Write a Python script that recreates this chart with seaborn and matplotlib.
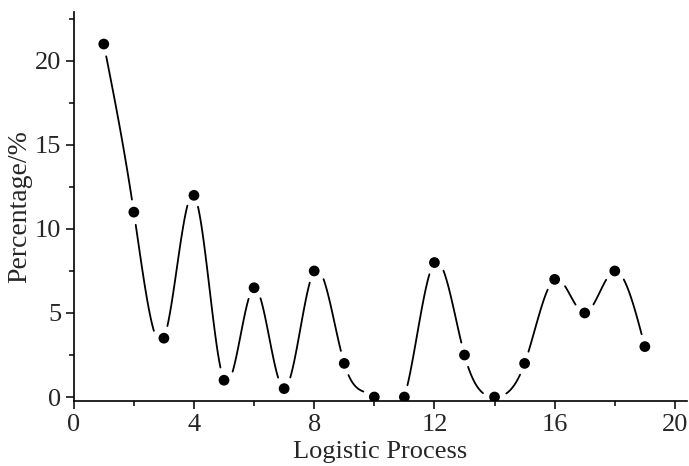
import numpy as np
import pandas as pd
import seaborn as sns
import matplotlib.pyplot as plt
from matplotlib.ticker import MultipleLocator

# Data
process = [1, 2, 3, 4, 5, 6, 7, 8, 9, 10, 11, 12, 13, 14, 15, 16, 17, 18, 19]
percentage = [21, 11, 3.5, 12, 1, 6.5, 0.5, 7.5, 2, 0, 0, 8, 2.5, 0, 2, 7, 5, 7.5, 3]


def natural_spline(x, y, n=2000):
    """Natural cubic spline through the points."""
    x = np.asarray(x, float)
    y = np.asarray(y, float)
    k = len(x)
    h = np.diff(x)
    A = np.zeros((k, k))
    b = np.zeros(k)
    A[0, 0] = A[-1, -1] = 1
    for i in range(1, k - 1):
        A[i, i - 1] = h[i - 1]
        A[i, i] = 2 * (h[i - 1] + h[i])
        A[i, i + 1] = h[i]
        b[i] = 6 * ((y[i + 1] - y[i]) / h[i] - (y[i] - y[i - 1]) / h[i - 1])
    m = np.linalg.solve(A, b)
    xs = np.linspace(x[0], x[-1], n)
    idx = np.clip(np.searchsorted(x, xs) - 1, 0, k - 2)
    t = xs - x[idx]
    hi = h[idx]
    a = y[idx]
    bb = (y[idx + 1] - y[idx]) / hi - hi * (2 * m[idx] + m[idx + 1]) / 6
    c = m[idx] / 2
    d = (m[idx + 1] - m[idx]) / (6 * hi)
    ys = a + bb * t + c * t ** 2 + d * t ** 3
    return xs, ys


sns.set_theme(style="ticks")
plt.rcParams['font.family'] = ['Liberation Serif', 'DejaVu Serif']

fig = plt.figure(figsize=(6.89, 4.66), dpi=100)
ax = fig.add_axes([0.107, 0.139, 0.89, 0.835])
ax.set_xlim(0, 20.4)
ax.set_ylim(-0.25, 22.9)

# spline curve, cut near each marker
xs, ys = natural_spline(process, percentage)
fig.canvas.draw()
curve_px = ax.transData.transform(np.column_stack([xs, ys]))
pts_px = ax.transData.transform(np.column_stack([process, percentage]))
dist = np.min(np.linalg.norm(curve_px[:, None, :] - pts_px[None, :, :], axis=2), axis=1)
keep = dist > 12
seg = np.cumsum(np.r_[True, keep[1:] != keep[:-1]])
curve = pd.DataFrame({"x": xs, "y": ys, "seg": seg})[keep]

sns.lineplot(data=curve, x="x", y="y", units="seg", estimator=None, sort=False,
             color="black", linewidth=1.3, ax=ax)
sns.scatterplot(x=process, y=percentage, color="black", s=60, edgecolor="none",
                zorder=3, ax=ax)

ax.set_xticks([0, 4, 8, 12, 16, 20])
ax.xaxis.set_minor_locator(MultipleLocator(2))
ax.set_yticks([0, 5, 10, 15, 20])
ax.yaxis.set_minor_locator(MultipleLocator(2.5))
ax.tick_params(which="major", direction="out", length=6, width=1.1, labelsize=19,
               color="black", pad=3)
ax.tick_params(which="minor", direction="out", length=3.5, width=1.1, color="black")
for side in ["left", "bottom"]:
    ax.spines[side].set_linewidth(1.2)
    ax.spines[side].set_color("black")
sns.despine(ax=ax)

ax.set_xlabel("Logistic Process", fontsize=19, labelpad=3.5)
ax.set_ylabel("Percentage/%", fontsize=20, labelpad=2)

fig.savefig("out.png", dpi=100)
